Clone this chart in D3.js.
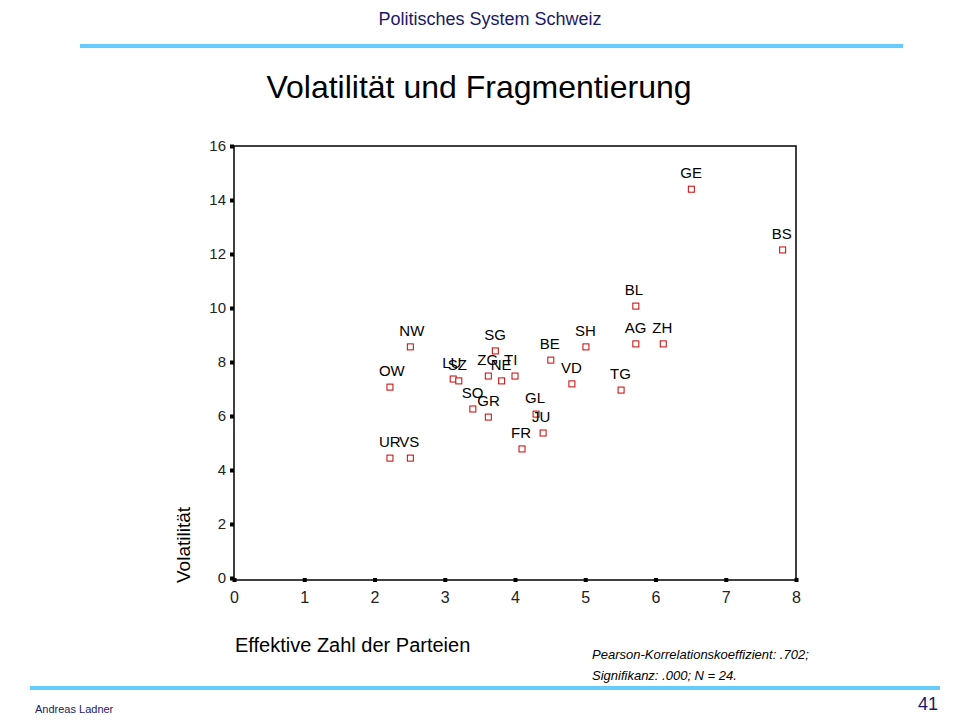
<!DOCTYPE html>
<html><head><meta charset="utf-8">
<script src="https://cdn.jsdelivr.net/npm/d3@7"></script>
<style>body{margin:0;background:#fff}text{font-family:Arial,"Liberation Sans",sans-serif}</style>
</head><body><div id="container"></div>
<script>
const cantons = ["GE","BS","BL","AG","ZH","SH","TG","VD","BE","SG","TI","NE","ZG","LU","SZ","OW","NW","SO","GR","GL","JU","FR","UR","VS"];
const fragmentierung = [6.51,7.81,5.72,5.72,6.11,5.01,5.51,4.81,4.51,3.72,4.0,3.81,3.62,3.12,3.2,2.22,2.51,3.4,3.62,4.3,4.4,4.1,2.22,2.51];
const volatilitaet = [14.4,12.15,10.07,8.67,8.67,8.56,6.96,7.19,8.07,8.41,7.48,7.3,7.48,7.37,7.3,7.07,8.56,6.26,5.96,6.07,5.37,4.78,4.44,4.44];
const xTicks = [0,1,2,3,4,5,6,7,8];
const yTicks = [0,2,4,6,8,10,12,14,16];

const width = 960, height = 720;
const svg = d3.select("#container").append("svg").attr("width", width).attr("height", height);

// header
svg.append("text").attr("x", 490).attr("y", 25).attr("text-anchor", "middle")
  .style("font-size", "18px").style("fill", "#1a1a66").text("Politisches System Schweiz");
svg.append("rect").attr("x", 80).attr("y", 44).attr("width", 823).attr("height", 4).attr("fill", "#66ccff");
svg.append("text").attr("x", 479).attr("y", 98).attr("text-anchor", "middle")
  .style("font-size", "32px").text("Volatilität und Fragmentierung");

// footer
svg.append("rect").attr("x", 30).attr("y", 686).attr("width", 910).attr("height", 4).attr("fill", "#66ccff");
svg.append("text").attr("x", 938).attr("y", 710).attr("text-anchor", "end").style("font-size", "18px").style("fill", "#1a1a66").text("41");
svg.append("text").attr("x", 35).attr("y", 713).style("font-size", "11px").style("fill", "#1a1a66").text("Andreas Ladner");

/* SCALES */
const x = d3.scaleLinear().domain([0, 8]).range([234, 796]);
const y = d3.scaleLinear().domain([0, 16]).range([578, 146]);

svg.append("rect").attr("x", 234).attr("y", 146).attr("width", 562).attr("height", 434)
  .attr("fill", "none").attr("stroke", "#000").attr("stroke-width", 1.5);

svg.append("g").attr("transform", "translate(0,580)")
  .call(d3.axisBottom(x).tickValues(xTicks).tickSize(0).tickPadding(12))
  .call(g => g.select(".domain").remove())
  .call(g => g.selectAll("text").style("font-size", "16px").style("fill", "#222"))
  .call(g => g.selectAll(".tick").append("rect").attr("x", -2).attr("y", -2).attr("width", 4).attr("height", 4).attr("fill", "#000"));

svg.append("g").attr("transform", "translate(232,0)")
  .call(d3.axisLeft(y).tickValues(yTicks).tickSize(0).tickPadding(6))
  .call(g => g.select(".domain").remove())
  .call(g => g.selectAll("text").style("font-size", "15px").style("fill", "#222"))
  .call(g => g.selectAll(".tick").append("rect").attr("x", -2).attr("y", -2).attr("width", 4).attr("height", 4).attr("fill", "#000"));

svg.append("text").attr("transform", "translate(190,583) rotate(-90)")
  .style("font-size", "19px").text("Volatilität");
svg.append("text").attr("x", 235).attr("y", 652).style("font-size", "20px").text("Effektive Zahl der Parteien");

svg.append("text").attr("x", 592).attr("y", 659).style("font-size", "13px").style("font-style", "italic").text("Pearson-Korrelationskoeffizient: .702;");
svg.append("text").attr("x", 592).attr("y", 680).style("font-size", "13px").style("font-style", "italic").text("Signifikanz: .000; N =  24.");

const idx = d3.range(cantons.length);
svg.selectAll("rect.pt").data(idx).join("rect").attr("class", "pt")
  .attr("x", i => x(fragmentierung[i]) - 3).attr("y", i => y(volatilitaet[i]) - 3)
  .attr("width", 6).attr("height", 6).attr("fill", "#fff").attr("stroke", "#cc0000").attr("stroke-width", 1);
svg.selectAll("text.label").data(idx).join("text").attr("class", "label")
  .attr("x", i => x(fragmentierung[i]) - 11).attr("y", i => y(volatilitaet[i]) - 11)
  .style("font-size", "15px").text(i => cantons[i]);
</script></body></html>
